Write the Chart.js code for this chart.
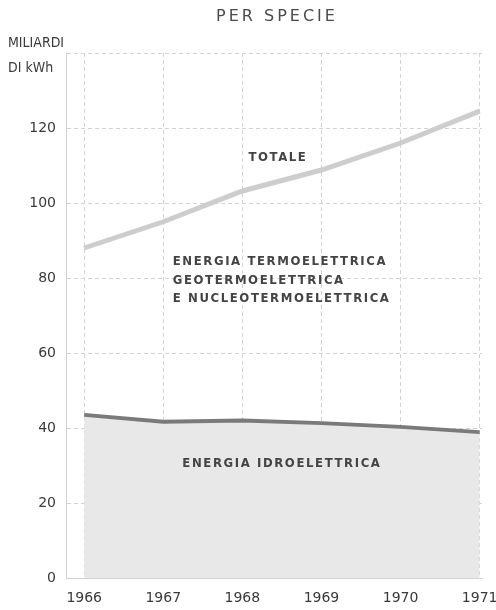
<!DOCTYPE html>
<html>
<head>
<meta charset="utf-8">
<script src="https://cdn.jsdelivr.net/npm/chart.js@4/dist/chart.umd.min.js"></script>
<style>
  html, body { margin: 0; padding: 0; background: #fff; }
  #wrap { width: 496px; height: 610px; position: relative; }
</style>
</head>
<body>
<div id="wrap"><canvas id="chart"></canvas></div>
<script>
// Produzione di energia elettrica per specie (miliardi di kWh)
const years = [1966, 1967, 1968, 1969, 1970, 1971];
const totale = [88, 95, 103.2, 108.8, 116, 124.5];
const idro = [43.5, 41.7, 42, 41.3, 40.3, 38.9];
const yTicks = [0, 20, 40, 60, 80, 100, 120, 140];

const textColor = '#3a3a3a';
const gridColor = '#d2d2d2';

// Titles and in-chart labels
const labelsPlugin = {
    id: 'labels',
    afterDraw(chart) {
        const ctx = chart.ctx;
        const x = chart.scales.x, y = chart.scales.y;
        ctx.save();
        ctx.fillStyle = '#4a4a4a';
        ctx.textBaseline = 'middle';

        ctx.font = '16px "DejaVu Sans"';
        ctx.letterSpacing = '3px';
        ctx.textAlign = 'center';
        ctx.fillText('PER SPECIE', 277, 17);

        ctx.fillStyle = textColor;
        ctx.font = '14px "DejaVu Sans Condensed"';
        ctx.letterSpacing = '0px';
        ctx.textAlign = 'left';
        ctx.fillText('MILIARDI', 8, 43);
        ctx.fillText('DI kWh', 8, 68);

        ctx.fillStyle = '#444';
        ctx.font = 'bold 13px "DejaVu Sans Condensed"';
        ctx.letterSpacing = '1.6px';
        ctx.textAlign = 'center';
        ctx.fillText('TOTALE', x.getPixelForValue(1968.45), y.getPixelForValue(112));

        ctx.textAlign = 'left';
        const lx = x.getPixelForValue(1967.12);
        ctx.fillText('ENERGIA TERMOELETTRICA', lx, y.getPixelForValue(84.3));
        ctx.fillText('GEOTERMOELETTRICA', lx, y.getPixelForValue(79.3));
        ctx.fillText('E NUCLEOTERMOELETTRICA', lx, y.getPixelForValue(74.4));

        ctx.textAlign = 'center';
        ctx.fillText('ENERGIA IDROELETTRICA', x.getPixelForValue(1968.5), y.getPixelForValue(30.5));
        ctx.restore();
    }
};

const toPoints = arr => arr.map((v, i) => ({ x: years[i], y: v }));

new Chart(document.getElementById('chart'), {
    type: 'line',
    data: {
        datasets: [
            {
                label: 'Totale',
                data: toPoints(totale),
                borderColor: '#cdcdcd',
                borderWidth: 5,
                pointRadius: 0,
                fill: false,
                tension: 0
            },
            {
                label: 'Idroelettrica',
                data: toPoints(idro),
                borderColor: '#7a7a7a',
                backgroundColor: '#e8e8e8',
                borderWidth: 4,
                pointRadius: 0,
                fill: 'origin',
                tension: 0
            }
        ]
    },
    options: {
        responsive: true,
        maintainAspectRatio: false,
        animation: false,
        layout: { padding: { top: 53, right: 14, left: 0, bottom: 0 } },
        plugins: {
            legend: { display: false },
            tooltip: { enabled: false }
        },
        scales: {
            x: {
                type: 'linear',
                min: 1965.77,
                max: 1971.03,
                afterBuildTicks: s => { s.ticks = years.map(v => ({ value: v })); },
                afterFit: s => { s.height = 32; s.paddingLeft = 0; s.paddingRight = 0; },
                ticks: {
                    color: textColor,
                    font: { family: 'DejaVu Sans', size: 14 },
                    padding: 12,
                    maxRotation: 0,
                    callback: v => String(v)
                },
                grid: { color: gridColor, drawTicks: false, lineWidth: 1 },
                border: { display: true, color: gridColor, dash: [4, 3] }
            },
            y: {
                min: 0,
                max: 140,
                afterBuildTicks: s => { s.ticks = yTicks.map(v => ({ value: v })); },
                afterFit: s => { s.width = 66; s.paddingTop = 0; s.paddingBottom = 0; },
                ticks: {
                    color: textColor,
                    font: { family: 'DejaVu Sans', size: 14 },
                    padding: 10,
                    callback: v => v === 140 ? '' : String(v)
                },
                grid: { color: gridColor, drawTicks: false, lineWidth: 1 },
                border: { display: true, color: gridColor, dash: [4, 3] }
            }
        }
    },
    plugins: [labelsPlugin]
});
</script>
</body>
</html>
